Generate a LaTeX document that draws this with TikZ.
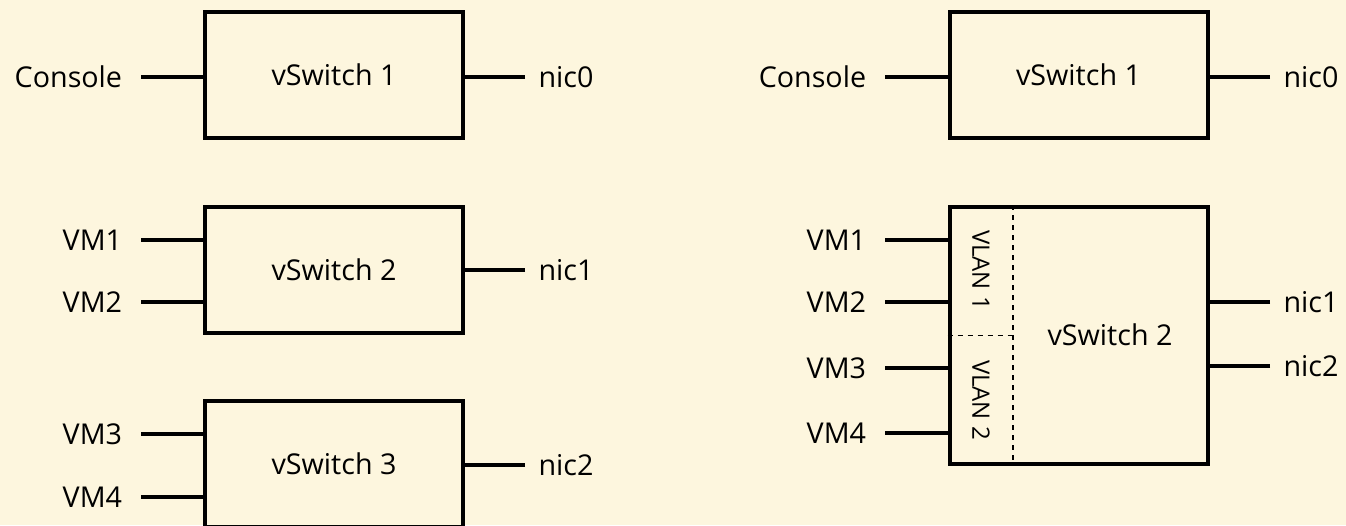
\documentclass[tikz,border=0pt]{standalone}
\usepackage{fontspec}
\setmainfont{Open Sans}
\usepackage{xcolor}
\usepackage{tikz}
\usetikzlibrary{positioning,calc}
\definecolor{paper}{HTML}{FDF6DE}

\begin{document}
\begin{tikzpicture}[x=0.75pt,y=-0.75pt,
  swbox/.style={draw,line width=3pt,minimum width=193.5pt,minimum height=94.5pt,inner sep=0pt,font=\fontsize{21.5}{26}\selectfont},
  lbl/.style={inner ysep=0pt,font=\fontsize{21.5}{26}\selectfont},
  lft/.style={lbl,anchor=east,inner xsep=14pt},
  rgt/.style={lbl,anchor=west,inner xsep=10pt},
  wire/.style={line width=2.5pt},
  vlan/.style={line width=1pt,dash pattern=on 4pt off 3.5pt}]
\fill[paper] (0,0) rectangle (1346,525);
\useasboundingbox (0,0) rectangle (1346,525);
\clip (0,0) rectangle (1346,525);
% left: one vSwitch per group
\node[swbox] (sA) at (334,75) {vSwitch 1};
\node[swbox] (sB) at (334,270) {vSwitch 2};
\node[swbox] (sC) at (334,464) {vSwitch 3};
\foreach \n/\y/\t/\s in {cA/77/Console/sA,vA1/240/VM1/sB,vA2/302/VM2/sB,vA3/434/VM3/sC,vA4/497/VM4/sC}{
  \node[lft] (\n) at (141,\y) {\t};
  \draw[wire] (\n.east) -- (\n.east -| \s.west);
}
\foreach \n/\y/\t/\s in {nA0/77/nic0/sA,nA1/270/nic1/sB,nA2/465/nic2/sC}{
  \node[rgt] (\n) at (525,\y) {\t};
  \draw[wire] (\n.west) -- (\n.west -| \s.east);
}
% right: VLANs on one vSwitch
\node[swbox] (sD) at (1078.5,75) {vSwitch 1};
\node[swbox,minimum height=192.75pt] (sE) at (1078.5,335.5) {};
\coordinate (dv) at (1013,0);
\draw[vlan] (dv |- sE.north) -- (dv |- sE.south);
\draw[vlan] (sE.west) -- (dv |- sE.west);
\node[lbl,font=\fontsize{18}{22}\selectfont,rotate=-90] (l1) at (981,270) {VLAN 1};
\node[lbl,font=\fontsize{18}{22}\selectfont,rotate=-90] (l2) at (981,400) {VLAN 2};
\node[lbl] (tE) at (1110,335) {vSwitch 2};
\foreach \n/\y/\t/\s in {cB/77/Console/sD,vB1/240/VM1/sE,vB2/302/VM2/sE,vB3/368/VM3/sE,vB4/433/VM4/sE}{
  \node[lft] (\n) at (885,\y) {\t};
  \draw[wire] (\n.east) -- (\n.east -| \s.west);
}
\foreach \n/\y/\t/\s in {nB0/77/nic0/sD,nB1/302/nic1/sE,nB2/366/nic2/sE}{
  \node[rgt] (\n) at (1270,\y) {\t};
  \draw[wire] (\n.west) -- (\n.west -| \s.east);
}
\end{tikzpicture}
\end{document}
